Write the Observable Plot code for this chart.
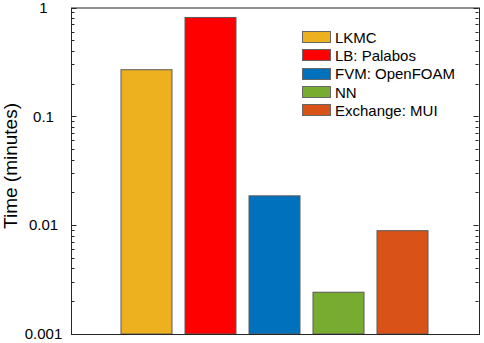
<!DOCTYPE html>
<html>
<head>
<meta charset="utf-8">
<script src="https://cdn.jsdelivr.net/npm/d3@7"></script>
<script src="https://cdn.jsdelivr.net/npm/@observablehq/plot@0.6"></script>
<style>
  html, body { margin: 0; padding: 0; background: #fff; }
  #wrap { position: relative; width: 484px; height: 343px; font-family: "Liberation Sans", Arial, Helvetica, sans-serif; }
  #legend { position: absolute; left: 302px; top: 28px; font-size: 15px; color: #000; }
  .row { display: flex; align-items: center; height: 18.3px; }
  .sw { width: 27px; height: 10px; border: 1px solid #666; margin-right: 4px; }
  #ylabel { position: absolute; left: 11px; top: 166px; transform: translate(-50%, -50%) rotate(-90deg); font-size: 19px; white-space: nowrap; color: #000; }
</style>
</head>
<body>
<div id="wrap"><div id="ylabel">Time (minutes)</div><div id="legend"></div></div>
<script>
const categories = ["LKMC", "LB: Palabos", "FVM: OpenFOAM", "NN", "Exchange: MUI"];
const times = [0.268, 0.81, 0.0186, 0.00242, 0.0089];
const colors = ["#EDB120", "#FF0000", "#0072BD", "#77AC30", "#D95319"];
const majorTicks = [0.001, 0.01, 0.1, 1];
const majorLabels = ["0.001", "0.01", "0.1", "1"];

const data = categories.map((c, i) => ({name: c, value: times[i], color: colors[i]}));
const minorTicks = [];
for (const base of [0.001, 0.01, 0.1]) for (let k = 2; k <= 9; k++) minorTicks.push(+(base * k).toPrecision(3));

const ML = 71, MR = 5, W = 484;
const chart = Plot.plot({
  width: W,
  height: 343,
  marginLeft: ML,
  marginRight: MR,
  marginTop: 7.5,
  marginBottom: 9,
  style: {fontFamily: '"Liberation Sans", Arial, Helvetica, sans-serif', fontSize: "15px", color: "#000", background: "#fff"},
  x: {type: "band", domain: categories, paddingInner: 0.2, paddingOuter: 0.75, axis: null},
  y: {type: "log", domain: [0.001, 1], axis: null},
  marks: [
    Plot.barY(data, {x: "name", y1: () => 0.001, y2: "value", fill: "color", stroke: "#5a5a5a", strokeWidth: 1}),
    Plot.axisY({anchor: "left", ticks: majorTicks, tickSize: 0, tickFormat: (d) => majorLabels[majorTicks.indexOf(d)], textAnchor: "middle", tickPadding: 28, fontSize: 15, fill: "#000", label: null}),
    Plot.frame({stroke: "#262626", strokeWidth: 1})
  ]
});
// inward ticks (MATLAB style), positioned through Plot's own y scale
const y = chart.scale("y");
const svg = d3.select(chart);
const g = svg.append("g").attr("stroke", "#262626").attr("stroke-width", 1);
const xl = ML + 0.5, xr = W - MR - 0.5;
for (const [ticks, len] of [[majorTicks, 5], [minorTicks, 3]]) {
  for (const t of ticks) {
    const py = Math.round(y.apply(t)) + 0.5;
    g.append("line").attr("x1", xl).attr("x2", xl + len).attr("y1", py).attr("y2", py);
    g.append("line").attr("x1", xr).attr("x2", xr - len).attr("y1", py).attr("y2", py);
  }
}
const wrap = document.getElementById("wrap");
wrap.insertBefore(chart, wrap.firstChild);
chart.style.position = "absolute";
chart.style.left = "0";
chart.style.top = "0";

const legend = document.getElementById("legend");
data.forEach(d => {
  const row = document.createElement("div");
  row.className = "row";
  const sw = document.createElement("div");
  sw.className = "sw";
  sw.style.background = d.color;
  const t = document.createElement("span");
  t.textContent = d.name;
  row.appendChild(sw); row.appendChild(t);
  legend.appendChild(row);
});
</script>
</body>
</html>
